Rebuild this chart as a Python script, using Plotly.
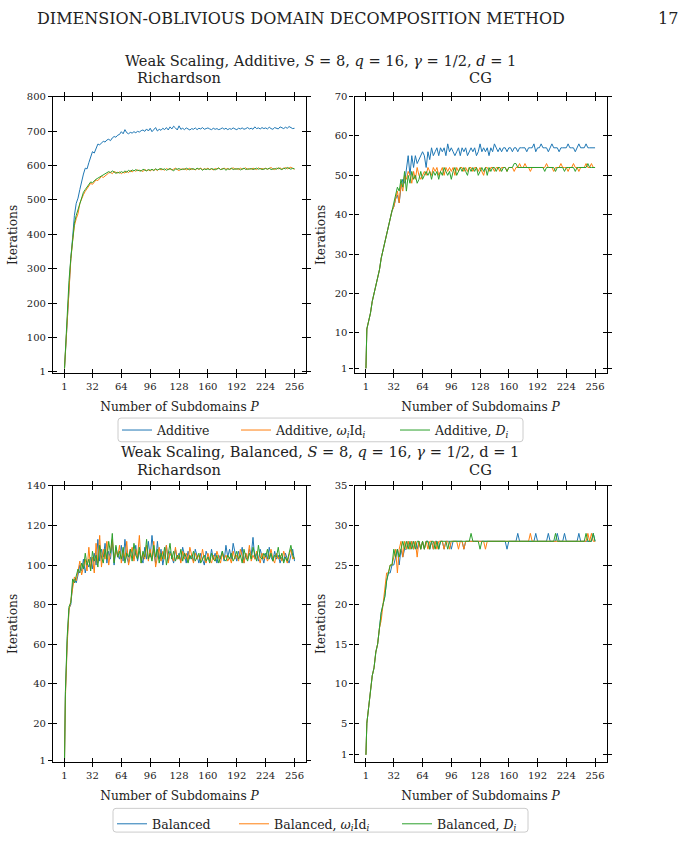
import plotly.graph_objects as go

# ---------------- data ----------------
P = [1] + list(range(2, 257, 2))
P_ticks = [1, 32, 64, 96, 128, 160, 192, 224, 256]

rich_additive = [
    10, 60, 160, 265, 330, 390, 455, 490, 505, 530, 555, 575, 592, 590, 608, 625,
    640, 636, 650, 662, 660, 665, 670, 668, 674, 676, 672, 680, 684, 682, 688, 690,
    698, 692, 704, 695, 692, 696, 694, 698, 695, 699, 697, 701, 703, 699, 706, 700,
    708, 698, 704, 710, 700, 705, 702, 708, 704, 710, 703, 712, 706, 714, 709, 703,
    715, 705, 708, 704, 709, 706, 703, 707, 705, 709, 704, 708, 706, 710, 705, 707,
    709, 706, 704, 708, 705, 707, 704, 706, 709, 705, 708, 704, 707, 705, 709, 706,
    704, 708, 706, 709, 705, 707, 710, 706, 708, 705, 712, 707, 709, 706, 710, 707,
    709, 706, 711, 707, 705, 710, 708, 706, 712, 709, 707, 711, 708, 713, 710, 707,
    708]
rich_additive_wid = [
    10, 60, 158, 262, 325, 380, 425, 445, 460, 490, 505, 515, 525, 532, 540, 548,
    545, 552, 558, 556, 562, 568, 565, 570, 575, 578, 580, 576, 582, 579, 578, 581,
    576, 580, 578, 583, 579, 585, 581, 586, 583, 587, 584, 586, 582, 588, 585, 587,
    584, 588, 586, 589, 585, 590, 587, 589, 586, 591, 588, 590, 587, 589, 592, 588,
    585, 590, 588, 591, 587, 589, 592, 588, 590, 587, 591, 589, 592, 588, 590, 589,
    592, 588, 590, 587, 591, 589, 593, 588, 590, 592, 589, 591, 588, 590, 593, 589,
    591, 588, 592, 589, 590, 593, 588, 591, 589, 592, 590, 588, 593, 590, 591, 589,
    592, 589, 591, 594, 590, 588, 592, 590, 593, 589, 591, 594, 590, 592, 595, 591,
    589]
rich_additive_d = [
    10, 62, 160, 265, 330, 385, 432, 455, 472, 495, 510, 522, 530, 538, 545, 552,
    550, 556, 560, 563, 566, 570, 572, 575, 578, 582, 579, 584, 581, 577, 580, 578,
    582, 579, 584, 580, 586, 582, 587, 584, 588, 585, 586, 583, 589, 586, 584, 588,
    586, 589, 585, 590, 587, 589, 591, 588, 590, 586, 589, 591, 588, 584, 590, 589,
    591, 587, 590, 588, 592, 589, 587, 591, 590, 588, 592, 589, 591, 586, 590, 588,
    590, 588, 591, 589, 587, 590, 592, 588, 589, 591, 586, 590, 589, 592, 588, 590,
    589, 591, 587, 590, 592, 588, 590, 589, 591, 588, 590, 592, 589, 591, 588, 590,
    591, 589, 592, 588, 590, 591, 589, 593, 590, 588, 592, 590, 594, 591, 589, 592,
    590]

cg_additive = [
    1, 11, 13, 15, 18, 20, 22, 24, 26, 29, 31, 33, 35, 37, 39, 41,
    42, 44, 45, 43, 47, 49, 48, 51, 55, 50, 55, 52, 55, 53, 54, 55,
    56, 55, 52, 56, 54, 57, 55, 56, 57, 55, 57, 56, 57, 55, 58, 56,
    57, 56, 55, 56, 57, 55, 57, 56, 57, 55, 56, 57, 56, 57, 55, 56,
    58, 56, 57, 56, 57, 55, 57, 56, 58, 57, 56, 57, 56, 57, 57, 56,
    57, 57, 56, 57, 57, 56, 57, 57, 57, 57, 56, 57, 57, 57, 58, 56,
    57, 57, 58, 57, 57, 57, 56, 57, 58, 57, 57, 57, 56, 57, 57, 57,
    57, 58, 57, 57, 57, 56, 57, 58, 57, 57, 57, 58, 57, 57, 57, 57,
    57]
cg_additive_wid = [
    1, 11, 13, 15, 18, 20, 22, 24, 26, 29, 31, 33, 35, 37, 39, 41,
    42, 44, 46, 43, 48, 46, 50, 49, 51, 50, 48, 51, 49, 52, 50, 49,
    50, 51, 50, 52, 51, 50, 52, 51, 52, 50, 51, 52, 50, 52, 51, 52,
    51, 52, 50, 52, 51, 52, 52, 51, 52, 51, 52, 52, 51, 52, 52, 51,
    52, 51, 50, 52, 52, 51, 52, 52, 51, 52, 52, 51, 52, 52, 52, 51,
    52, 52, 52, 51, 52, 52, 53, 52, 52, 53, 52, 52, 51, 52, 52, 52,
    52, 52, 52, 52, 52, 53, 52, 52, 52, 51, 52, 52, 52, 53, 52, 52,
    52, 51, 52, 52, 53, 52, 52, 51, 52, 52, 52, 53, 52, 52, 53, 52,
    52]
cg_additive_d = [
    1, 11, 13, 15, 18, 20, 22, 24, 26, 29, 31, 33, 35, 37, 39, 41,
    43, 45, 47, 46, 49, 47, 51, 46, 50, 48, 51, 49, 50, 48, 49, 51,
    49, 50, 51, 50, 51, 49, 51, 50, 51, 49, 51, 50, 52, 51, 50, 51,
    49, 51, 52, 50, 51, 52, 51, 52, 51, 50, 52, 51, 52, 51, 52, 50,
    51, 52, 51, 52, 50, 52, 51, 52, 52, 51, 52, 52, 51, 52, 52, 51,
    52, 52, 52, 53, 53, 52, 52, 52, 52, 52, 52, 52, 52, 52, 52, 52,
    52, 52, 52, 52, 51, 52, 52, 52, 52, 52, 51, 52, 52, 52, 52, 51,
    52, 52, 52, 52, 52, 51, 52, 52, 52, 52, 52, 52, 53, 52, 52, 52,
    52]

rich_balanced = [
    1, 35, 62, 78, 80, 90, 93, 91, 95, 100, 97, 103, 96, 101, 99, 104,
    98, 106, 100, 113, 102, 108, 104, 111, 101, 107, 103, 112, 100, 109, 105, 103,
    110, 102, 113, 104, 101, 108, 106, 103, 110, 102, 107, 104, 101, 109, 103, 112,
    104, 115, 106, 101, 112, 103, 108, 100, 106, 110, 102, 107, 104, 101, 108, 103,
    106, 102, 109, 104, 101, 107, 103, 105, 102, 108, 104, 101, 106, 103, 100, 107,
    104, 102, 108, 103, 106, 101, 105, 103, 107, 102, 110, 104, 108, 103, 111, 106,
    102, 107, 104, 109, 101, 106, 103, 108, 105, 114, 103, 106, 102, 108, 104, 101,
    106, 103, 109, 104, 102, 107, 103, 105, 101, 104, 102, 106, 103, 101, 105, 108,
    102]
rich_balanced_wid = [
    1, 33, 60, 77, 82, 88, 94, 92, 97, 102, 95, 99, 103, 97, 109, 98,
    104, 96, 111, 101, 115, 99, 108, 103, 112, 100, 106, 113, 102, 108, 104, 110,
    101, 107, 103, 112, 100, 105, 109, 102, 108, 104, 115, 101, 106, 103, 110, 102,
    108, 103, 112, 99, 105, 109, 102, 107, 103, 110, 101, 106, 104, 102, 109, 103,
    105, 101, 107, 103, 106, 102, 109, 104, 101, 106, 103, 105, 102, 108, 103, 101,
    106, 103, 101, 105, 102, 107, 104, 101, 106, 103, 105, 102, 104, 101, 107, 103,
    105, 102, 108, 104, 101, 106, 103, 110, 102, 105, 103, 107, 104, 101, 106, 103,
    105, 102, 104, 108, 103, 101, 106, 103, 105, 102, 107, 104, 101, 105, 108, 103,
    104]
rich_balanced_d = [
    1, 36, 64, 79, 81, 93, 91, 94, 98, 96, 101, 98, 106, 100, 103, 97,
    107, 102, 105, 99, 110, 104, 101, 108, 103, 112, 106, 116, 101, 110, 104, 107,
    103, 109, 101, 106, 104, 108, 102, 111, 105, 103, 109, 101, 107, 104, 113, 103,
    106, 102, 110, 104, 108, 101, 106, 103, 109, 100, 105, 111, 103, 107, 102, 105,
    103, 108, 102, 106, 104, 101, 105, 103, 107, 102, 104, 106, 101, 103, 105, 102,
    104, 101, 106, 103, 102, 105, 101, 104, 107, 103, 102, 105, 103, 106, 102, 104,
    107, 103, 105, 101, 108, 104, 102, 106, 103, 109, 105, 102, 110, 104, 103, 106,
    104, 108, 103, 106, 102, 105, 104, 109, 103, 106, 101, 104, 102, 106, 110, 105,
    103]

cg_balanced = [
    1, 5, 7, 9, 11, 12, 14, 15, 17, 19, 20, 21, 23, 24, 24, 25,
    25, 26, 27, 25, 27, 26, 27, 27, 28, 27, 28, 27, 28, 27, 28, 27,
    28, 27, 28, 28, 27, 28, 27, 28, 28, 27, 28, 28, 27, 28, 28, 28,
    27, 28, 28, 28, 28, 28, 28, 27, 28, 28, 28, 28, 28, 28, 28, 28,
    28, 28, 28, 28, 28, 28, 28, 28, 28, 28, 28, 28, 28, 28, 28, 27,
    28, 28, 28, 28, 28, 29, 28, 28, 28, 28, 28, 28, 28, 28, 28, 29,
    28, 28, 28, 28, 28, 28, 29, 28, 28, 28, 28, 29, 28, 28, 28, 29,
    28, 28, 28, 28, 28, 28, 28, 29, 28, 28, 28, 28, 28, 28, 28, 29,
    28]
cg_balanced_wid = [
    1, 5, 7, 9, 11, 12, 14, 15, 17, 18, 20, 22, 24, 24, 25, 25,
    26, 27, 24, 27, 28, 26, 28, 27, 28, 27, 28, 27, 28, 26, 28, 27,
    28, 27, 28, 27, 28, 28, 27, 28, 27, 28, 28, 28, 27, 28, 28, 27,
    28, 28, 28, 28, 27, 28, 28, 27, 28, 28, 28, 28, 28, 28, 28, 28,
    28, 28, 28, 27, 28, 28, 28, 28, 28, 28, 28, 28, 28, 28, 28, 28,
    28, 28, 28, 28, 28, 28, 28, 28, 28, 28, 28, 28, 29, 28, 28, 28,
    28, 28, 28, 28, 28, 28, 28, 28, 28, 28, 28, 28, 28, 28, 28, 28,
    28, 28, 28, 28, 28, 28, 28, 28, 28, 28, 28, 28, 29, 28, 29, 28,
    28]
cg_balanced_d = [
    1, 5, 7, 9, 11, 12, 14, 15, 17, 19, 20, 21, 23, 24, 25, 25,
    27, 26, 27, 26, 27, 28, 27, 28, 27, 28, 27, 28, 27, 28, 28, 27,
    28, 27, 28, 28, 27, 28, 28, 27, 28, 27, 28, 28, 28, 28, 27, 28,
    28, 28, 28, 28, 28, 28, 28, 28, 28, 28, 28, 29, 28, 28, 28, 28,
    27, 28, 28, 28, 28, 28, 28, 28, 28, 28, 28, 28, 28, 28, 28, 28,
    28, 28, 28, 28, 28, 28, 28, 28, 28, 28, 28, 28, 28, 28, 28, 28,
    28, 28, 28, 28, 28, 28, 28, 28, 28, 28, 29, 28, 28, 28, 28, 28,
    28, 28, 28, 28, 28, 28, 28, 28, 28, 28, 28, 29, 28, 28, 28, 29,
    28]

names_top = ["Additive", "Additive, <i>ω</i><sub><i>i</i></sub>Id<sub><i>i</i></sub>",
             "Additive, <i>D</i><sub><i>i</i></sub>"]
names_bot = ["Balanced", "Balanced, <i>ω</i><sub><i>i</i></sub>Id<sub><i>i</i></sub>",
             "Balanced, <i>D</i><sub><i>i</i></sub>"]

yticks_rich_add = [1, 100, 200, 300, 400, 500, 600, 700, 800]
yticks_cg_add = [1, 10, 20, 30, 40, 50, 60, 70]
yticks_rich_bal = [1, 20, 40, 60, 80, 100, 120, 140]
yticks_cg_bal = [1, 5, 10, 15, 20, 25, 30, 35]

# ---------------- figure ----------------
W, H = 682, 844
FONT = "DejaVu Serif"
TXT = "#222222"
COLORS = ["#1f77b4", "#ff7f0e", "#2ca02c"]

def px_x(a, b):
    return [a / W, b / W]

def px_y(top, bottom):
    return [1 - bottom / H, 1 - top / H]

# legend layout: (legend ids, line start x positions, text centre y, box)
LEG_TOP = (["legend", "legend2", "legend3"], [123, 242, 401], 430.5, (118, 418, 523, 442))
LEG_BOT = (["legend4", "legend5", "legend6"], [118, 240, 403], 829, (113, 813, 528, 837))

panels = [
    ([rich_additive, rich_additive_wid, rich_additive_d], names_top, LEG_TOP[0], True,
     px_x(53, 306), px_y(92.7, 372.7), [-4, 800], yticks_rich_add),
    ([cg_additive, cg_additive_wid, cg_additive_d], names_top, LEG_TOP[0], False,
     px_x(354.5, 606.5), px_y(92.7, 372.5), [-0.2, 70], yticks_cg_add),
    ([rich_balanced, rich_balanced_wid, rich_balanced_d], names_bot, LEG_BOT[0], True,
     px_x(53, 306), px_y(486.7, 766), [0.5, 140], yticks_rich_bal),
    ([cg_balanced, cg_balanced_wid, cg_balanced_d], names_bot, LEG_BOT[0], False,
     px_x(354.5, 606.5), px_y(486.7, 766), [0.1, 35], yticks_cg_bal),
]

fig = go.Figure()
XR = [-11.75, 268.75]
tickfont = dict(family=FONT, size=10, color=TXT)
axtitle_font = dict(family=FONT, size=12.2, color=TXT)

for k, (series, names, legs, showleg, xd, yd, yr, yt) in enumerate(panels):
    n = k + 1
    xa = "x" if n == 1 else f"x{n}"
    ya = "y" if n == 1 else f"y{n}"
    for s, nm, c, lg in zip(series, names, COLORS, legs):
        fig.add_trace(go.Scatter(x=P, y=s, mode="lines", name=nm,
                                 line=dict(color=c, width=1),
                                 xaxis=xa, yaxis=ya, legend=lg,
                                 showlegend=showleg))
    fig.layout[f"xaxis{'' if n == 1 else n}"] = dict(
        domain=xd, anchor=ya, range=XR, tickmode="array", tickvals=P_ticks,
        ticktext=[str(v) for v in P_ticks], ticks="outside", ticklen=4,
        tickwidth=1, tickcolor="black", mirror="allticks", showline=True,
        linecolor="black", linewidth=1.2, showgrid=False, zeroline=False,
        tickfont=tickfont,
        title=dict(text="Number of Subdomains <i>P</i>", font=axtitle_font, standoff=11))
    fig.layout[f"yaxis{'' if n == 1 else n}"] = dict(
        domain=yd, anchor=xa, range=yr, tickmode="array", tickvals=yt,
        ticktext=[str(v) for v in yt], ticks="outside", ticklen=4,
        tickwidth=1, tickcolor="black", mirror="allticks", showline=True,
        linecolor="black", linewidth=1.2, showgrid=False, zeroline=False,
        tickfont=tickfont,
        title=dict(text="Iterations", font=axtitle_font, standoff=6))
    m = n + 4
    fig.layout[f"xaxis{m}"] = dict(
        overlaying=xa, anchor=ya, range=XR, tickmode="array", tickvals=P_ticks,
        ticks="inside", ticklen=4, tickwidth=1, tickcolor="black",
        mirror="allticks", showticklabels=False, showline=False,
        showgrid=False, zeroline=False)
    fig.layout[f"yaxis{m}"] = dict(
        overlaying=ya, anchor=xa, range=yr, tickmode="array", tickvals=yt,
        ticks="inside", ticklen=4, tickwidth=1, tickcolor="black",
        mirror="allticks", showticklabels=False, showline=False,
        showgrid=False, zeroline=False)
    fig.add_trace(go.Scatter(x=[], y=[], xaxis=f"x{m}", yaxis=f"y{m}",
                             showlegend=False, hoverinfo="skip"))

ann_font = dict(family=FONT, size=14.6, color=TXT)
annotations = [
    dict(text="DIMENSION-OBLIVIOUS DOMAIN DECOMPOSITION METHOD", x=301 / W, y=1 - 14 / H,
         font=dict(family=FONT, size=16, color=TXT)),
    dict(text="17", x=668 / W, y=1 - 14 / H, font=dict(family=FONT, size=16, color=TXT)),
    dict(text="Weak Scaling, Additive, <i>S</i> = 8, <i>q</i> = 16, <i>γ</i> = 1/2, <i>d</i> = 1",
         x=320 / W, y=1 - 56 / H, font=ann_font),
    dict(text="Richardson", x=179 / W, y=1 - 73 / H, font=ann_font),
    dict(text="CG", x=480 / W, y=1 - 73 / H, font=ann_font),
    dict(text="Weak Scaling, Balanced, <i>S</i> = 8, <i>q</i> = 16, <i>γ</i> = 1/2, d = 1",
         x=320 / W, y=1 - 452 / H, font=ann_font),
    dict(text="Richardson", x=179 / W, y=1 - 470.5 / H, font=ann_font),
    dict(text="CG", x=480 / W, y=1 - 470.5 / H, font=ann_font),
]
for a in annotations:
    a.update(xref="paper", yref="paper", xanchor="center", yanchor="middle",
             showarrow=False)

# legends: one item each, placed individually inside a drawn frame
legends = {}
shapes = []
for ids, xs, yc, (bx0, by0, bx1, by1) in (LEG_TOP, LEG_BOT):
    for lid, xs0 in zip(ids, xs):
        legends[lid] = dict(orientation="h", xanchor="left", yanchor="middle",
                            x=(xs0 - 6) / W, y=1 - yc / H, borderwidth=0,
                            bgcolor="rgba(0,0,0,0)",
                            font=dict(family=FONT, size=12.5, color=TXT))
    r = 3
    X0, X1 = bx0 / W, bx1 / W
    Y0, Y1 = 1 - by1 / H, 1 - by0 / H
    rx, ry = r / W, r / H
    path = (f"M{X0 + rx},{Y1} L{X1 - rx},{Y1} Q{X1},{Y1} {X1},{Y1 - ry} "
            f"L{X1},{Y0 + ry} Q{X1},{Y0} {X1 - rx},{Y0} L{X0 + rx},{Y0} "
            f"Q{X0},{Y0} {X0},{Y0 + ry} L{X0},{Y1 - ry} Q{X0},{Y1} {X0 + rx},{Y1} Z")
    shapes.append(dict(type="path", xref="paper", yref="paper", path=path,
                       line=dict(color="#cccccc", width=1), fillcolor="white",
                       layer="above"))

fig.update_layout(
    width=W, height=H, margin=dict(l=0, r=0, t=0, b=0),
    paper_bgcolor="white", plot_bgcolor="white",
    annotations=annotations, shapes=shapes,
    font=dict(family=FONT),
    **legends,
)

fig.write_html("out.html")
